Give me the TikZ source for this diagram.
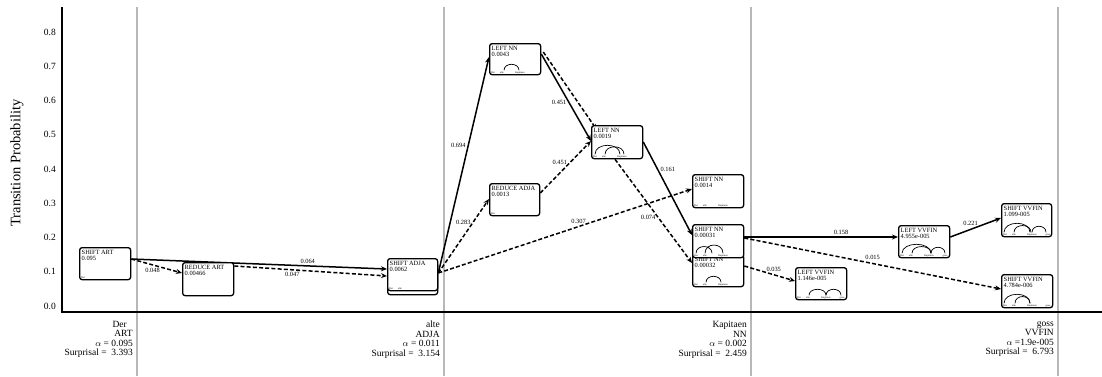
\documentclass[tikz,border=0pt]{standalone}
\usepackage{fontspec}
\setmainfont{Liberation Serif}
\usetikzlibrary{calc,arrows.meta}
\pgfdeclarelayer{back}
\pgfdeclarelayer{bg}
\pgfsetlayers{back,bg,main}
\newcommand\stbox[6]{%
  \node[sbox, minimum width=#3pt, minimum height=#4pt, anchor=north west] (#1) at #2 {};
  \node[ttl, anchor=north west] (#1-t) at ($(#1.north west)+(2.5,3.2)$) {#5\\#6};}
\newcommand\wrd[3]{\node[tw] (#1-w#2) at ($(#1.south west)+(#2,-2.5)$) {#3};}
\newcommand\wthree[1]{\wrd{#1}{4}{Der}\wrd{#1}{13}{alte}\wrd{#1}{31}{Kapitaen}}
\newcommand\wfour[1]{\wthree{#1}\wrd{#1}{47}{goss}}
\newcommand\darc[4]{\draw[deparc] ($(#1.south west)+(#2,-5)$) .. controls +(0,-#4) and +(0,-#4) .. ($(#1.south west)+(#3,-5)$);}
\begin{document}
\begin{tikzpicture}[x=1pt,y=-1pt,
  sbox/.style={draw, line width=1.3pt, rounded corners=2.5pt, fill=white, inner sep=0pt},
  ttl/.style={font=\fontsize{6.4}{6.2}\selectfont, align=left, inner sep=0pt},
  tw/.style={font=\fontsize{2.6}{3}\selectfont, inner sep=0pt},
  deparc/.style={line width=0.7pt},
  tr/.style={line width=1.5pt, -{Stealth[length=6pt,width=5pt]}},
  trd/.style={tr, dash pattern=on 4pt off 2.2pt},
  el/.style={font=\fontsize{6.4}{6.4}\selectfont, inner sep=1pt},
  gridl/.style={line width=1.6pt, draw=black!28},
  tick/.style={font=\fontsize{9.5}{9.5}\selectfont, anchor=east, inner sep=0pt},
  bl/.style={font=\fontsize{9.5}{9.5}\selectfont, align=right, inner sep=0pt, anchor=north east}]
\useasboundingbox (0,0) rectangle (1102,376);
% grid and axes
\begin{pgfonlayer}{back}
\foreach \gx in {137,444,751,1058} \draw[gridl] (\gx,7) -- (\gx,376);
\draw[line width=1.8pt] (62,7) -- (62,312) -- (1102,312);
\end{pgfonlayer}
\foreach \v/\t in {0/0.0,1/0.1,2/0.2,3/0.3,4/0.4,5/0.5,6/0.6,7/0.7,8/0.8}
  \node[tick] (tick\v) at (56,{306-\v*34.25}) {\t};
\node[rotate=90, font=\fontsize{14.5}{14.5}\selectfont, inner sep=0pt] (ytitle) at (17,163) {Transition Probability};
% bottom labels
\node[bl] (lab1) at (133,321) {Der\hspace*{6pt}\\ART\hspace*{6pt}\\$\alpha$ = 0.095\hspace*{6pt}\\Surprisal =\ \ 3.393};
\node[bl] (lab2) at (440,321) {alte\\ADJA\\$\alpha$ = 0.011\\Surprisal =\ \ 3.154};
\node[bl] (lab3) at (747,321) {Kapitaen\\NN\\$\alpha$ = 0.002\\Surprisal =\ \ 2.459};
\node[bl] (lab4) at (1054,321) {goss\\VVFIN\\$\alpha$ =1.9e-005\\Surprisal =\ \ 6.793};
% boxes
\stbox{sart}{(79,247)}{51}{32}{SHIFT ART}{0.095}
\wrd{sart}{4}{Der}
\stbox{rart}{(182,262)}{51}{33}{REDUCE ART}{0.00466}
\node[sbox, minimum width=50pt, minimum height=32pt, anchor=north west] (sadjab) at (387,262) {};
\stbox{sadja}{(387,258)}{50}{32}{SHIFT ADJA}{0.0062}
\wrd{sadja}{4}{Der}\wrd{sadja}{13}{alte}
\stbox{lnn1}{(489,43)}{51}{31}{LEFT NN}{0.0043}
\wthree{lnn1}\darc{lnn1}{15}{30}{8}
\stbox{radja}{(489,183)}{50}{32}{REDUCE ADJA}{0.0013}
\wrd{radja}{4}{Der}
\stbox{lnn2}{(591,125)}{51}{33}{LEFT NN}{0.0019}
\wthree{lnn2}\darc{lnn2}{4}{29}{12}\darc{lnn2}{14}{33}{10}
\stbox{snn1}{(692,174)}{51}{33}{SHIFT NN}{0.0014}
\wthree{snn1}
\stbox{snn3}{(692,254)}{51}{32}{SHIFT NN}{0.00032}
\wthree{snn3}\darc{snn3}{14}{29}{8}
\stbox{snn2}{(692,224)}{51}{33}{SHIFT NN}{0.00031}
\wthree{snn2}\darc{snn2}{4}{20}{9}\darc{snn2}{13}{31}{11}
\stbox{lvv1}{(795,267)}{51}{32}{LEFT VVFIN}{1.146e-005}
\wfour{lvv1}\darc{lvv1}{14}{31}{8}\darc{lvv1}{31}{46}{8}
\stbox{lvv2}{(898,225)}{51}{32}{LEFT VVFIN}{4.955e-005}
\wfour{lvv2}\darc{lvv2}{4}{33}{12}\darc{lvv2}{14}{33}{9}\darc{lvv2}{33}{47}{8}
\stbox{svv1}{(1001,203)}{50}{33}{SHIFT VVFIN}{1.099-005}
\wfour{svv1}\darc{svv1}{3}{29}{12}\darc{svv1}{13}{30}{9}\darc{svv1}{31}{45}{8}
\stbox{svv2}{(1001,274)}{51}{33}{SHIFT VVFIN}{4.784e-006}
\wfour{svv2}\darc{svv2}{3}{29}{12}\darc{svv2}{14}{29}{9}
% transitions
\begin{pgfonlayer}{bg}
\draw[tr] ($(sart.north east)+(0,12)$) -- node[el,pos=0.69,above=1pt]{0.064} ($(sadja.north west)+(0,11)$);
\draw[trd] ($(sart.north east)+(0,12)$) -- node[el,pos=0.42,below=2pt]{0.048} ($(rart.north west)+(0,11)$);
\draw[trd] ($(rart.north east)+(0,4)$) -- node[el,pos=0.38,below=1pt]{0.047} ($(sadja.north west)+(0,18)$);
\draw[tr] ($(sadja.north east)+(0,15)$) -- node[el,pos=0.59,left=1pt]{0.694} ($(lnn1.north west)+(0,14)$);
\draw[trd] ($(sadja.north east)+(0,15)$) -- node[el,pos=0.69,left=1pt]{0.283} ($(radja.north west)+(0,16)$);
\draw[trd] ($(sadja.north east)+(0,15)$) -- node[el,pos=0.553,above=1pt]{0.307} ($(snn1.north west)+(0,15)$);
\draw[tr] ($(lnn1.north east)+(0,11)$) -- node[el,pos=0.56,left=1pt]{0.451} ($(lnn2.north west)+(0,16)$);
\draw[trd] ($(lnn1.north east)+(2,9)$) -- ($(lnn2.north west)+(6,5)$);
\draw[trd] ($(radja.north east)+(0,10)$) -- node[el,pos=0.58,left=1pt]{0.451} ($(lnn2.north west)+(0,16)$);
\draw[tr] ($(lnn2.north east)+(0,17)$) -- node[el,pos=0.3,right=1pt]{0.161} ($(snn2.north west)+(0,11)$);
\draw[trd] ($(lnn2.south west)+(24,0)$) -- node[el,pos=0.56,left=1pt]{0.074} ($(snn3.north west)+(0,9)$);
\draw[tr] ($(snn2.north east)+(0,13)$) -- node[el,pos=0.63,above=1pt]{0.158} ($(lvv2.north west)+(0,12)$);
\draw[trd] ($(snn2.north east)+(0,14)$) -- node[el,pos=0.5,above=2pt]{0.015} ($(svv2.north west)+(0,15)$);
\draw[trd] ($(snn3.north east)+(0,12)$) -- node[el,pos=0.58,above=1pt]{0.035} ($(lvv1.north west)+(0,14)$);
\draw[tr] ($(lvv2.north east)+(0,12)$) -- node[el,pos=0.4,above=2pt]{0.221} ($(svv1.north west)+(0,15)$);
\end{pgfonlayer}
\end{tikzpicture}
\end{document}
